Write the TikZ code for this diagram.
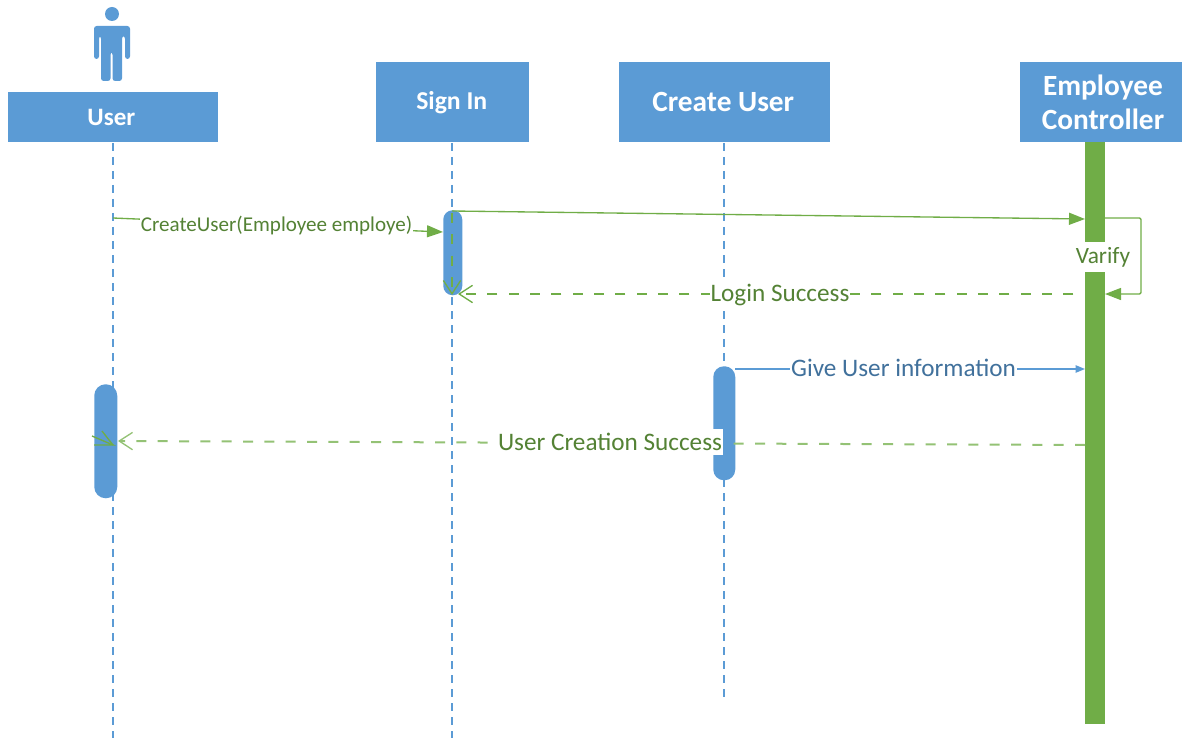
\documentclass[tikz,border=0pt]{standalone}
\usepackage{fontspec}
\setmainfont{Carlito}
\usetikzlibrary{arrows.meta}
\definecolor{boxblue}{HTML}{5B9BD5}
\definecolor{barGreen}{HTML}{70AD47}
\definecolor{txtGreen}{HTML}{548235}
\definecolor{txtBlue}{HTML}{41719C}
\tikzset{
  headbox/.style={fill=boxblue,draw=none,text=white,font=\bfseries\fontsize{22}{26}\selectfont,align=center,inner sep=0pt,anchor=north west},
  lifeline/.style={boxblue,line width=0.9pt,dash pattern=on 6pt off 4.5pt},
  activation/.style={fill=boxblue,draw=none,inner sep=0pt,anchor=north west},
  msg/.style={barGreen,line width=1pt},
  ret/.style={barGreen,line width=1.2pt,dash pattern=on 7.5pt off 8.5pt},
  solidtip/.style={-{Triangle[length=12pt,width=9pt]}},
  opentip/.style={-{Straight Barb[length=10pt,width=13pt,line width=1pt]}},
  msgtext/.style={fill=white,inner sep=0.5pt,text=txtGreen,font=\fontsize{18.9}{22}\selectfont},
}
\begin{document}
\begin{tikzpicture}[x=0.75pt,y=-0.75pt]
\useasboundingbox (0,0) rectangle (1182,738);
% actor
\fill[boxblue] (112,14) circle (7);
\fill[boxblue,rounded corners=2pt] (94,59) -- (94,26) -- (130,26) -- (130,59) -- (125,59) -- (125,36) -- (122,36) -- (122,81) -- (112.5,81) -- (112.5,52) -- (110.5,52) -- (110.5,81) -- (101,81) -- (101,36) -- (99,36) -- (99,59) -- cycle;
% heads
\node[headbox,minimum width=210.5pt*0.75,minimum height=50pt*0.75] (user) at (7.5,92) {\fontsize{18.8}{22}\selectfont User\hspace*{2.5pt}};
\node[headbox,minimum width=153pt*0.75,minimum height=80pt*0.75] (signin) at (376,62) {\fontsize{19.3}{22}\selectfont Sign In\hspace*{1.5pt}};
\node[headbox,minimum width=211pt*0.75,minimum height=80pt*0.75] (create) at (618.5,62) {Create User\hspace*{1.5pt}};
\node[headbox,minimum width=162pt*0.75,minimum height=80pt*0.75] (ctrl) at (1020,62) {\hspace*{2.5pt}Employee\\\hspace*{2.5pt}Controller};
% lifeline ends
\coordinate (userEnd) at (113,738);
\coordinate (signEnd) at (452,738);
\coordinate (createEnd) at (724,697);
\coordinate (userTop) at (113,143);
\coordinate (signTop) at (452,143);
\coordinate (createTop) at (724,143);
\draw[lifeline] (userTop) -- (userEnd);
\draw[lifeline] (signTop) -- (signEnd);
\draw[lifeline] (createTop) -- (createEnd);
% activations
\node[activation,rounded corners=8.5pt,minimum width=23pt*0.75,minimum height=114pt*0.75] (userbar) at (94,384) {};
\node[activation,rounded corners=7pt,minimum width=19pt*0.75,minimum height=85pt*0.75] (signbar) at (443,210) {};
\node[activation,rounded corners=8pt,minimum width=22pt*0.75,minimum height=114pt*0.75] (createbar) at (713,366) {};
\node[fill=barGreen,draw=none,inner sep=0pt,anchor=north west,minimum width=19.5pt*0.75,minimum height=582pt*0.75] (ctrlbar) at (1085,142) {};
% anchors for connectors
\coordinate (m1s) at (113,218);
\coordinate (m1e) at (443,232);
\coordinate (m2s) at (452,211);
\coordinate (m2e) at (1085,219);
\coordinate (l1) at (1104,218);
\coordinate (l2) at (1141,218);
\coordinate (l3) at (1141,294);
\coordinate (l4) at (1105,294);
\coordinate (r1s) at (1085,294);
\coordinate (r1e) at (458,294);
\coordinate (v1s) at (452,213);
\coordinate (v1e) at (452,295);
\coordinate (g1s) at (735,369);
\coordinate (g1e) at (1085,369);
\coordinate (u1s) at (1085,445);
\coordinate (u1e) at (118,441);
\coordinate (u2s) at (92,436);
\coordinate (u2e) at (113,445);
% connectors
\draw[msg,solidtip] (m1s) -- (m1e);
\draw[msg,solidtip] (m2s) -- (m2e);
\draw[msg,solidtip,rounded corners=1pt] (l1) -- (l2) -- (l3) -- (l4);
\draw[ret,dash phase=7.2pt,opentip] (r1s) -- (r1e);
\draw[ret,opentip] (v1s) -- (v1e);
\draw[boxblue,line width=1pt,-{Triangle[length=7pt,width=5.5pt]}] (g1s) -- (g1e);
\draw[ret,barGreen!75,line width=1.5pt,opentip] (u1s) -- (u1e);
\draw[barGreen,line width=1pt] (94,445) -- (u2e) -- (u2s);
\draw[barGreen,line width=1pt] (u2e) -- (102,431);
% labels
\node[msgtext,font=\fontsize{15.8}{18}\selectfont] (t1) at (276.5,225.5) {CreateUser(Employee employe)};
\node[msgtext,font=\fontsize{17.5}{20}\selectfont,minimum width=52pt,minimum height=22pt] (t2) at (1103,257) {Varify};
\node[msgtext] (t3) at (780,294.5) {Login Success};
\node[msgtext,text=txtBlue] (t4) at (903.5,368) {Give User information};
\node[msgtext,minimum height=20pt] (t5) at (610,442) {User Creation Success};
\end{tikzpicture}
\end{document}
